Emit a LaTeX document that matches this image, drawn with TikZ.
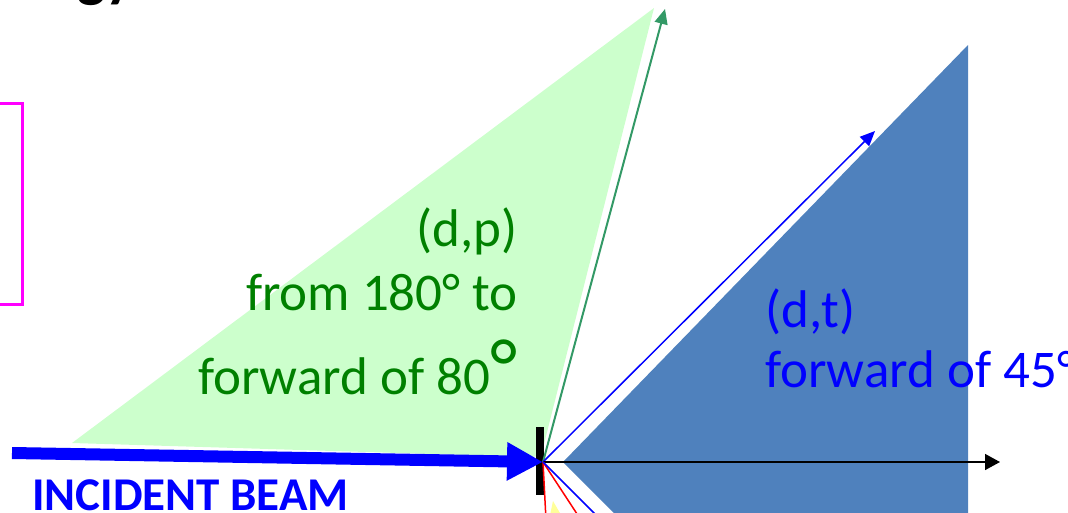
\documentclass[tikz,border=0pt]{standalone}
\usepackage{fontspec}
\setmainfont{Carlito}
\usetikzlibrary{arrows.meta,positioning,calc}
\definecolor{dpfill}{HTML}{CCFFCC}
\definecolor{dtfill}{HTML}{4F81BD}
\definecolor{dpray}{HTML}{339966}
\definecolor{dptext}{HTML}{008000}
\definecolor{lowyellow}{HTML}{FFFF99}
\definecolor{framepink}{HTML}{FF00FF}

\begin{document}
\begin{tikzpicture}[x=1pt, y=-1pt, >=Latex,
  dplabel/.style={text=dptext, font=\fontsize{53}{60}\selectfont, inner sep=0pt, anchor=base east},
  dtlabel/.style={text=blue, font=\fontsize{53}{60}\selectfont, inner sep=0pt, anchor=base west}]
  \useasboundingbox (0,0) rectangle (1068,512);

  % cones
  \fill[dpfill] (72,443) -- (654,8) -- (541,456) -- (530,457) -- cycle;
  \fill[dtfill] (563,462) -- (968,45) -- (968,530) -- (631,530) -- cycle;
  \fill[lowyellow] (553,501) -- (549,520) -- (564,520) -- cycle;

  % target and ray ends
  \node[fill=black, inner sep=0pt, minimum width=8pt, minimum height=68pt] (target) at (540,461) {};
  \coordinate (tgt) at (543,462);
  \coordinate (beamStart) at (12,453);
  \coordinate (dpEnd) at (665,9);
  \coordinate (dtEnd) at (875,131);
  \coordinate (zeroEnd) at (1000,462);
  \coordinate (redA) at (546,520);
  \coordinate (redB) at (581,520);
  \coordinate (blueLow) at (601,520);

  % incident beam
  \draw[blue, line width=12pt, -{Triangle[length=36pt, width=36pt]}] (beamStart) -- (tgt);

  % emitted rays
  \draw[dpray, line width=2pt, -{Triangle[length=15pt, width=13pt]}] (tgt) -- (dpEnd);
  \draw[blue, line width=1.5pt, -{Triangle[length=15pt, width=13pt]}] (tgt) -- (dtEnd);
  \draw[black, line width=1.5pt, -{Triangle[length=15pt, width=16pt]}] (tgt) -- (zeroEnd);
  \draw[red, line width=1.5pt] (tgt) -- (redA);
  \draw[red, line width=1.5pt] (tgt) -- (redB);
  \draw[blue, line width=1.5pt] (tgt) -- (blueLow);

  % labels
  \node[dplabel] (dp1) at (518,246) {(d,p)};
  \node[dplabel] (dp2) at (518,310) {from 180° to};
  \node[dplabel, anchor=base west] (dp3) at (198,394) {forward of 80};
  \node[text=dptext, font=\fontsize{80}{80}\selectfont, inner sep=0pt, anchor=base west] (dpdeg) at (dp3.base east) {°};
  \node[dtlabel] (dt1) at (765,327) {(d,t)};
  \node[dtlabel] (dt2) at (765,387) {forward of 45°};
  \node[text=blue, font=\bfseries\fontsize{47}{50}\selectfont, inner sep=0pt, anchor=base west] (beam) at (32,510) {INCIDENT BEAM};

  % frame pieces cut by the page
  \draw[framepink, line width=3pt] (-10,103) -- (22,103) -- (22,304) -- (-10,304);
  \node[font=\bfseries\fontsize{60}{60}\selectfont, inner sep=0pt, anchor=base west] (title) at (77,-5) {gy};
\end{tikzpicture}
\end{document}
